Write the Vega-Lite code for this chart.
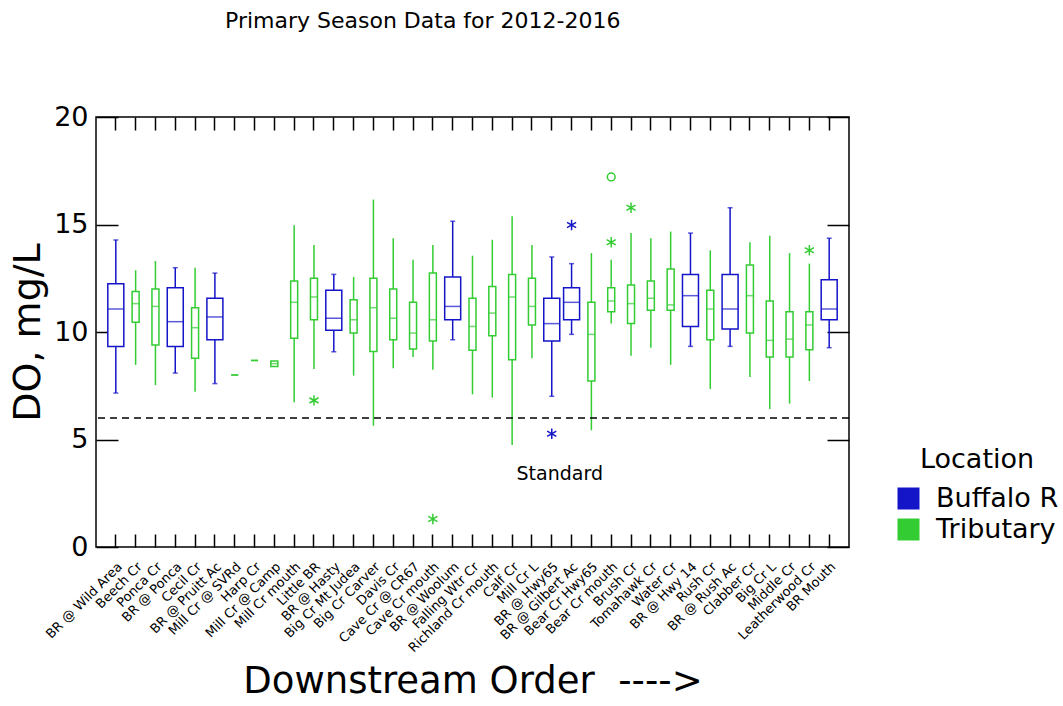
{
  "$schema": "https://vega.github.io/schema/vega-lite/v6.json",
  "autosize": {"type": "none"},
  "width": 753,
  "height": 430,
  "padding": {"left": 96, "top": 117, "right": 214, "bottom": 159},
  "background": "white",
  "title": {
    "text": "Primary Season Data for 2012-2016",
    "anchor": "start",
    "frame": "group",
    "dx": 129,
    "offset": 70,
    "fontSize": 22,
    "fontWeight": "normal",
    "font": "DejaVu Sans",
    "color": "black"
  },
  "config": {
    "view": {"stroke": "black", "strokeWidth": 1.5},
    "font": "DejaVu Sans",
    "axis": {
      "domain": false,
      "grid": false,
      "tickColor": "black",
      "tickWidth": 1.5,
      "labelColor": "black",
      "titleColor": "black",
      "labelFont": "DejaVu Sans",
      "titleFont": "DejaVu Sans",
      "titleFontWeight": "normal"
    },
    "legend": {
      "orient": "none",
      "legendX": 799,
      "legendY": 330,
      "titleFontSize": 27,
      "titleFontWeight": "normal",
      "titleColor": "black",
      "titleAnchor": "middle",
      "labelFontSize": 27,
      "labelColor": "black",
      "labelFont": "DejaVu Sans",
      "titleFont": "DejaVu Sans",
      "symbolType": "square",
      "symbolSize": 484,
      "rowPadding": 3,
      "titlePadding": 11,
      "labelOffset": 14
    }
  },
  "datasets": {
    "boxes": [
      {"site": "BR @ Wild Area", "location": "Buffalo R", "lo": 7.16, "q1": 9.33, "med": 11.07, "q3": 12.25, "hi": 14.28},
      {"site": "Beech Cr", "location": "Tributary", "lo": 8.47, "q1": 10.45, "med": 11.32, "q3": 11.88, "hi": 12.87},
      {"site": "Ponca Cr", "location": "Tributary", "lo": 7.53, "q1": 9.4, "med": 11.19, "q3": 12.0, "hi": 13.3},
      {"site": "BR @ Ponca", "location": "Buffalo R", "lo": 8.09, "q1": 9.33, "med": 10.48, "q3": 12.06, "hi": 12.99},
      {"site": "Cecil Cr", "location": "Tributary", "lo": 7.22, "q1": 8.78, "med": 10.2, "q3": 11.13, "hi": 12.99},
      {"site": "BR @ Pruitt Ac", "location": "Buffalo R", "lo": 7.6, "q1": 9.64, "med": 10.7, "q3": 11.57, "hi": 12.74},
      {"site": "Mill Cr @ SVRd", "location": "Tributary", "lo": 8.0, "q1": 8.0, "med": 8.0, "q3": 8.0, "hi": 8.0},
      {"site": "Harp Cr", "location": "Tributary", "lo": 8.68, "q1": 8.68, "med": 8.68, "q3": 8.68, "hi": 8.68},
      {"site": "Mill Cr @ Camp", "location": "Tributary", "lo": 8.4, "q1": 8.4, "med": 8.53, "q3": 8.65, "hi": 8.65},
      {"site": "Mill Cr mouth", "location": "Tributary", "lo": 6.73, "q1": 9.71, "med": 11.38, "q3": 12.37, "hi": 14.96},
      {"site": "Little BR", "location": "Tributary", "lo": 8.28, "q1": 10.57, "med": 11.63, "q3": 12.5, "hi": 14.05},
      {"site": "BR @ Hasty", "location": "Buffalo R", "lo": 9.08, "q1": 10.08, "med": 10.64, "q3": 11.94, "hi": 12.68},
      {"site": "Big Cr Mt Judea", "location": "Tributary", "lo": 7.97, "q1": 9.95, "med": 10.57, "q3": 11.5, "hi": 12.56},
      {"site": "Big Cr Carver", "location": "Tributary", "lo": 5.64, "q1": 9.09, "med": 11.13, "q3": 12.5, "hi": 16.16},
      {"site": "Davis Cr", "location": "Tributary", "lo": 8.31, "q1": 9.64, "med": 10.64, "q3": 12.0, "hi": 14.36},
      {"site": "Cave Cr @ CR67", "location": "Tributary", "lo": 8.84, "q1": 9.21, "med": 9.95, "q3": 11.38, "hi": 13.36},
      {"site": "Cave Cr mouth", "location": "Tributary", "lo": 8.25, "q1": 9.58, "med": 10.57, "q3": 12.74, "hi": 14.05},
      {"site": "BR @ Woolum", "location": "Buffalo R", "lo": 9.64, "q1": 10.57, "med": 11.19, "q3": 12.56, "hi": 15.15},
      {"site": "Falling Wtr Cr", "location": "Tributary", "lo": 7.1, "q1": 9.15, "med": 10.26, "q3": 11.57, "hi": 13.55},
      {"site": "Richland Cr mouth", "location": "Tributary", "lo": 6.95, "q1": 9.83, "med": 10.88, "q3": 12.12, "hi": 14.29},
      {"site": "Calf Cr", "location": "Tributary", "lo": 4.74, "q1": 8.71, "med": 11.63, "q3": 12.68, "hi": 15.38},
      {"site": "Mill Cr L", "location": "Tributary", "lo": 8.78, "q1": 10.33, "med": 11.19, "q3": 12.5, "hi": 14.05},
      {"site": "BR @ Hwy65", "location": "Buffalo R", "lo": 7.01, "q1": 9.58, "med": 10.39, "q3": 11.57, "hi": 13.49},
      {"site": "BR @ Gilbert Ac", "location": "Buffalo R", "lo": 9.89, "q1": 10.57, "med": 11.38, "q3": 12.06, "hi": 13.18},
      {"site": "Bear Cr Hwy65", "location": "Tributary", "lo": 5.43, "q1": 7.72, "med": 9.89, "q3": 11.38, "hi": 13.67},
      {"site": "Bear Cr mouth", "location": "Tributary", "lo": 10.39, "q1": 10.94, "med": 11.44, "q3": 12.06, "hi": 13.36},
      {"site": "Brush Cr", "location": "Tributary", "lo": 8.9, "q1": 10.39, "med": 11.32, "q3": 12.19, "hi": 14.6},
      {"site": "Tomahawk Cr", "location": "Tributary", "lo": 9.27, "q1": 11.01, "med": 11.57, "q3": 12.37, "hi": 14.36},
      {"site": "Water Cr", "location": "Tributary", "lo": 8.47, "q1": 11.01, "med": 11.26, "q3": 12.93, "hi": 14.67},
      {"site": "BR @ Hwy 14", "location": "Buffalo R", "lo": 9.33, "q1": 10.26, "med": 11.69, "q3": 12.68, "hi": 14.6},
      {"site": "Rush Cr", "location": "Tributary", "lo": 7.35, "q1": 9.64, "med": 11.07, "q3": 11.94, "hi": 13.8},
      {"site": "BR @ Rush Ac", "location": "Buffalo R", "lo": 9.33, "q1": 10.14, "med": 11.07, "q3": 12.68, "hi": 15.78},
      {"site": "Clabber Cr", "location": "Tributary", "lo": 7.91, "q1": 9.95, "med": 11.69, "q3": 13.12, "hi": 14.17},
      {"site": "Big Cr L", "location": "Tributary", "lo": 6.42, "q1": 8.84, "med": 9.61, "q3": 11.44, "hi": 14.48},
      {"site": "Middle Cr", "location": "Tributary", "lo": 6.67, "q1": 8.84, "med": 9.67, "q3": 10.94, "hi": 13.67},
      {"site": "Leatherwood Cr", "location": "Tributary", "lo": 7.72, "q1": 9.18, "med": 10.33, "q3": 10.94, "hi": 13.18},
      {"site": "BR Mouth", "location": "Buffalo R", "lo": 9.27, "q1": 10.57, "med": 11.07, "q3": 12.43, "hi": 14.36}
    ],
    "outliers": [
      {"site": "Little BR", "location": "Tributary", "value": 6.82, "kind": "outside"},
      {"site": "Cave Cr mouth", "location": "Tributary", "value": 1.3, "kind": "outside"},
      {"site": "BR @ Hwy65", "location": "Buffalo R", "value": 5.27, "kind": "outside"},
      {"site": "BR @ Gilbert Ac", "location": "Buffalo R", "value": 14.98, "kind": "outside"},
      {"site": "Bear Cr mouth", "location": "Tributary", "value": 14.17, "kind": "outside"},
      {"site": "Bear Cr mouth", "location": "Tributary", "value": 17.21, "kind": "far outside"},
      {"site": "Brush Cr", "location": "Tributary", "value": 15.78, "kind": "outside"},
      {"site": "Leatherwood Cr", "location": "Tributary", "value": 13.8, "kind": "outside"}
    ],
    "standard": [
      {"label": "Standard", "value": 6, "site": "BR @ Hwy65"}
    ]
  },
  "resolve": {"axis": {"x": "independent", "y": "independent"}},
  "layer": [
    {
      "data": {"name": "boxes"},
      "mark": {"type": "rule", "strokeWidth": 1.5},
      "encoding": {
        "x": {
          "field": "site",
          "type": "nominal",
          "scale": {
            "domain": ["BR @ Wild Area", "Beech Cr", "Ponca Cr", "BR @ Ponca", "Cecil Cr", "BR @ Pruitt Ac", "Mill Cr @ SVRd", "Harp Cr", "Mill Cr @ Camp", "Mill Cr mouth", "Little BR", "BR @ Hasty", "Big Cr Mt Judea", "Big Cr Carver", "Davis Cr", "Cave Cr @ CR67", "Cave Cr mouth", "BR @ Woolum", "Falling Wtr Cr", "Richland Cr mouth", "Calf Cr", "Mill Cr L", "BR @ Hwy65", "BR @ Gilbert Ac", "Bear Cr Hwy65", "Bear Cr mouth", "Brush Cr", "Tomahawk Cr", "Water Cr", "BR @ Hwy 14", "Rush Cr", "BR @ Rush Ac", "Clabber Cr", "Big Cr L", "Middle Cr", "Leatherwood Cr", "BR Mouth"],
            "paddingInner": 0,
            "paddingOuter": 0.5
          },
          "axis": {
            "orient": "bottom",
            "title": "Downstream Order \u00a0---->",
            "titleFontSize": 37,
            "titlePadding": 9,
            "labelAngle": -45,
            "labelFontSize": 13,
            "labelPadding": 26,
            "tickSize": -13
          }
        },
        "y": {
          "field": "lo",
          "type": "quantitative",
          "scale": {"domain": [0, 20], "nice": false, "zero": false},
          "axis": {
            "orient": "left",
            "values": [0, 5, 10, 15, 20],
            "title": "DO, mg/L",
            "titleFontSize": 38,
            "titlePadding": 6,
            "labelFontSize": 27,
            "labelPadding": 30,
            "tickSize": -22
          }
        },
        "y2": {"field": "hi"},
        "color": {
          "field": "location",
          "type": "nominal",
          "title": "Location",
          "scale": {"domain": ["Buffalo R", "Tributary"], "range": ["#1414c8", "#33cc33"]},
          "legend": {
            "symbolStrokeWidth": 0,
            "encode": {
              "symbols": {"update": {"fill": {"scale": "color", "field": "value"}, "fillOpacity": {"value": 1}}}
            }
          }
        }
      }
    },
    {
      "data": {"name": "boxes"},
      "transform": [{"filter": "datum.location === 'Buffalo R'"}],
      "mark": {"type": "tick", "thickness": 1.5, "size": 5},
      "encoding": {
        "x": {"field": "site", "type": "nominal", "axis": null},
        "y": {"field": "lo", "type": "quantitative", "axis": null},
        "color": {"field": "location", "type": "nominal", "legend": null}
      }
    },
    {
      "data": {"name": "boxes"},
      "transform": [{"filter": "datum.location === 'Buffalo R'"}],
      "mark": {"type": "tick", "thickness": 1.5, "size": 5},
      "encoding": {
        "x": {"field": "site", "type": "nominal", "axis": null},
        "y": {"field": "hi", "type": "quantitative", "axis": null},
        "color": {"field": "location", "type": "nominal", "legend": null}
      }
    },
    {
      "data": {"name": "boxes"},
      "mark": {"type": "bar", "fill": "white", "fillOpacity": 1, "strokeWidth": 1.5},
      "encoding": {
        "x": {"field": "site", "type": "nominal", "axis": null},
        "y": {"field": "q1", "type": "quantitative", "axis": null},
        "y2": {"field": "q3"},
        "stroke": {"field": "location", "type": "nominal", "scale": {"domain": ["Buffalo R", "Tributary"], "range": ["#1414c8", "#33cc33"]}, "legend": null},
        "size": {"condition": {"test": "datum.location === 'Buffalo R'", "value": 16}, "value": 7}
      }
    },
    {
      "data": {"name": "boxes"},
      "mark": {"type": "tick", "thickness": 1.5},
      "encoding": {
        "x": {
          "field": "site",
          "type": "nominal",
          "axis": {"orient": "top", "labels": false, "title": null, "tickSize": -13}
        },
        "y": {
          "field": "med",
          "type": "quantitative",
          "axis": {"orient": "right", "labels": false, "title": null, "values": [0, 5, 10, 15, 20], "tickSize": -22}
        },
        "color": {"field": "location", "type": "nominal", "legend": null},
        "size": {"condition": {"test": "datum.location === 'Buffalo R'", "value": 16}, "value": 7}
      }
    },
    {
      "data": {"name": "outliers"},
      "mark": {"type": "point", "filled": false, "strokeWidth": 1.5, "opacity": 1},
      "encoding": {
        "x": {"field": "site", "type": "nominal", "axis": null},
        "y": {"field": "value", "type": "quantitative", "axis": null},
        "color": {"field": "location", "type": "nominal", "legend": null},
        "shape": {
          "field": "kind",
          "type": "nominal",
          "scale": {"domain": ["outside", "far outside"], "range": ["M0,-1L0,1M-0.87,-0.5L0.87,0.5M-0.87,0.5L0.87,-0.5", "circle"]},
          "legend": null
        },
        "size": {"condition": {"test": "datum.kind === 'outside'", "value": 110}, "value": 60}
      }
    },
    {
      "data": {"name": "standard"},
      "mark": {"type": "rule", "color": "black", "strokeWidth": 1.5, "strokeDash": [7, 5]},
      "encoding": {
        "y": {"field": "value", "type": "quantitative", "axis": null}
      }
    },
    {
      "data": {"name": "standard"},
      "mark": {"type": "text", "fontSize": 19, "color": "black", "dx": 8, "dy": 56, "baseline": "middle"},
      "encoding": {
        "x": {"field": "site", "type": "nominal", "axis": null},
        "y": {"field": "value", "type": "quantitative", "axis": null},
        "text": {"field": "label"}
      }
    }
  ]
}
